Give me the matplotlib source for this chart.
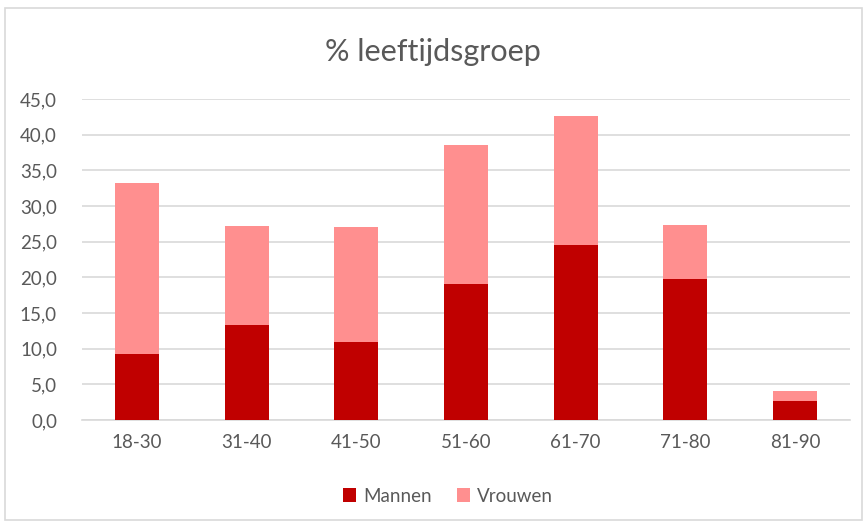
import matplotlib
matplotlib.use("Agg")
import matplotlib.pyplot as plt
from matplotlib.patches import Rectangle
from matplotlib.ticker import FuncFormatter, MultipleLocator
import numpy as np

categories = ["18-30", "31-40", "41-50", "51-60", "61-70", "71-80", "81-90"]
mannen = [9.2, 13.3, 10.9, 19.0, 24.6, 19.7, 2.7]
vrouwen = [24.0, 13.9, 16.1, 19.6, 18.0, 7.6, 1.3]
title = "% leeftijdsgroep"

plt.rcParams['font.family'] = ['Lato', 'DejaVu Sans']
text_color = "#595959"

fig = plt.figure(figsize=(8.66, 5.24), dpi=100)
fig.patches.append(Rectangle((5/866, 4/524), 857/866, 512/524, transform=fig.transFigure,
                             fill=False, edgecolor="#D9D9D9", linewidth=1.2))
ax = fig.add_axes([82/866, 1 - 420/524, 768/866, 321/524])

x = np.arange(len(categories))
ax.bar(x, mannen, width=0.4, color="#C00000", label="Mannen", zorder=3)
ax.bar(x, vrouwen, width=0.4, bottom=mannen, color="#FF8F8F", label="Vrouwen", zorder=3)

ax.set_xlim(-0.5, len(categories) - 0.5)
ax.set_ylim(0, 45)
ax.yaxis.set_major_locator(MultipleLocator(5))
ax.yaxis.set_major_formatter(FuncFormatter(lambda v, p: f"{v:.1f}".replace(".", ",")))
ax.set_xticks(x)
ax.set_xticklabels(categories)
ax.grid(axis="y", color="#D9D9D9", linewidth=1.2, zorder=0)
for s in ["top", "right", "left"]:
    ax.spines[s].set_visible(False)
ax.spines["bottom"].set_color("#D9D9D9")
ax.spines["bottom"].set_linewidth(1.2)
ax.tick_params(axis="both", length=0, colors=text_color, labelsize=13.5)
ax.tick_params(axis="y", pad=18)
ax.tick_params(axis="x", pad=10)

fig.text(0.5, 1 - 52/524, title, ha="center", va="center", fontsize=22, color=text_color)

leg = fig.legend(loc="center", bbox_to_anchor=(448/866, 1 - 496/524), ncol=2, frameon=False,
                 fontsize=13.5, handlelength=0.7, handleheight=0.7, handletextpad=0.4,
                 columnspacing=1.3, labelcolor=text_color)

fig.savefig("out.png", dpi=100)
